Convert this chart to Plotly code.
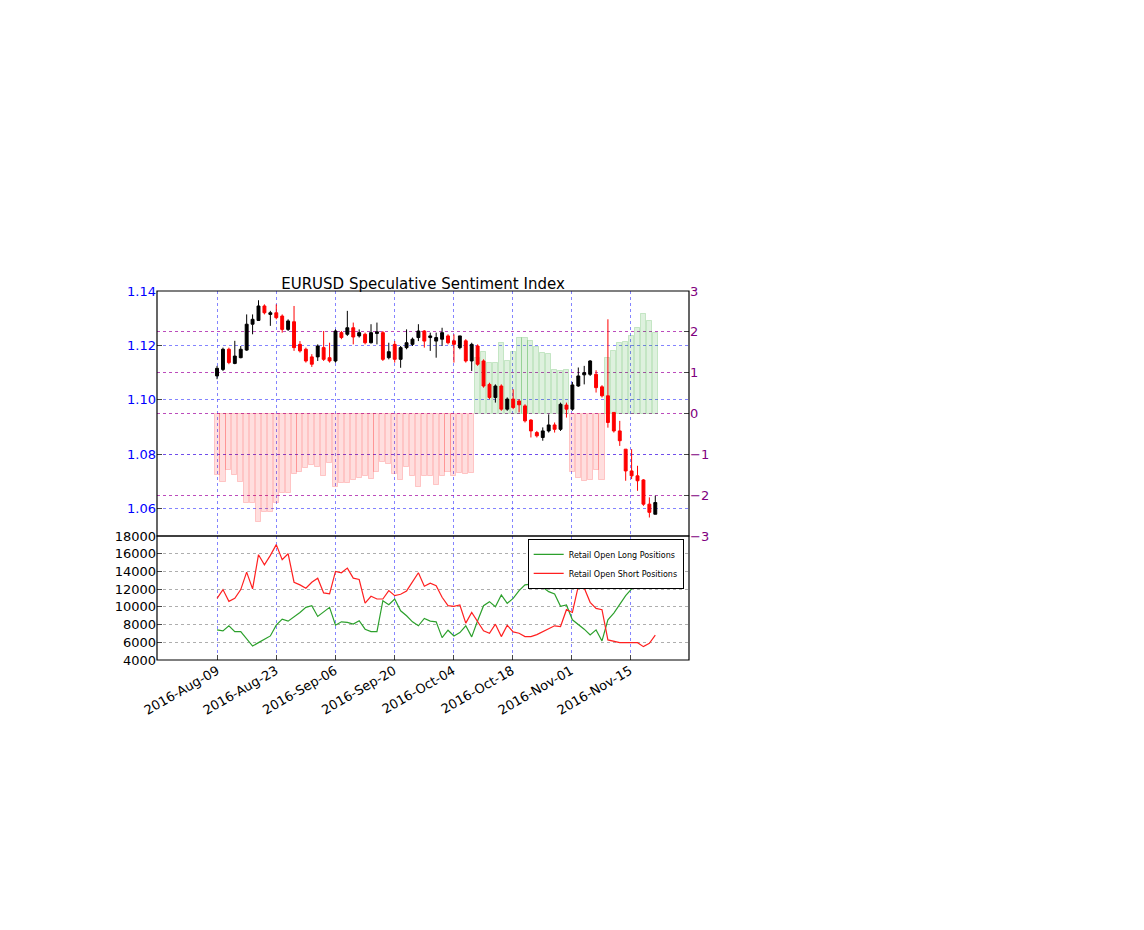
import pandas as pd
import plotly.graph_objects as go

# 75 trading sessions, drawn evenly between first and last date (as in the source chart)
dates = pd.date_range("2016-08-09", "2016-11-21", periods=75)

opens = [1.1088, 1.1112, 1.1186, 1.1134, 1.1155, 1.1183, 1.1278, 1.1292, 1.1345, 1.1314,
         1.1320, 1.1308, 1.1259, 1.1287, 1.1204, 1.1186, 1.1158, 1.1158, 1.1192, 1.1155,
         1.1143, 1.1247, 1.1241, 1.1265, 1.1235, 1.1241, 1.1210, 1.1244, 1.1247, 1.1155,
         1.1204, 1.1149, 1.1192, 1.1204, 1.1229, 1.1253, 1.1229, 1.1216, 1.1223, 1.1235,
         1.1217, 1.1192, 1.1217, 1.1143, 1.1198, 1.1143, 1.1057, 1.1009, 1.1051, 1.0966,
         1.1003, 1.0996, 1.0978, 1.0926, 1.0880, 1.0862, 1.0886, 1.0908, 1.0892, 1.0981,
         1.0966, 1.1051, 1.1092, 1.1094, 1.1094, 1.1048, 1.1015, 1.0954, 1.0886, 1.0819,
         1.0739, 1.0721, 1.0706, 1.0617, 1.0580]
highs = [1.1125, 1.1192, 1.1192, 1.1217, 1.1198, 1.1314, 1.1314, 1.1366, 1.1351, 1.1327,
         1.1351, 1.1314, 1.1296, 1.1345, 1.1216, 1.1192, 1.1168, 1.1204, 1.1253, 1.1210,
         1.1259, 1.1253, 1.1327, 1.1284, 1.1259, 1.1247, 1.1278, 1.1284, 1.1253, 1.1210,
         1.1216, 1.1198, 1.1259, 1.1229, 1.1278, 1.1256, 1.1247, 1.1247, 1.1265, 1.1241,
         1.1241, 1.1235, 1.1223, 1.1210, 1.1204, 1.1149, 1.1063, 1.1057, 1.1057, 1.1009,
         1.1039, 1.1003, 1.0984, 1.0929, 1.0886, 1.0899, 1.0947, 1.0917, 1.0990, 1.0990,
         1.1066, 1.1119, 1.1125, 1.1146, 1.1109, 1.1054, 1.1296, 1.0954, 1.0923, 1.0819,
         1.0819, 1.0758, 1.0709, 1.0642, 1.0648]
lows = [1.1076, 1.1106, 1.1131, 1.1131, 1.1153, 1.1180, 1.1241, 1.1290, 1.1314, 1.1272,
        1.1296, 1.1247, 1.1253, 1.1180, 1.1174, 1.1137, 1.1121, 1.1143, 1.1143, 1.1137,
        1.1137, 1.1223, 1.1235, 1.1204, 1.1229, 1.1204, 1.1207, 1.1204, 1.1143, 1.1149,
        1.1137, 1.1118, 1.1186, 1.1198, 1.1216, 1.1192, 1.1180, 1.1155, 1.1198, 1.1204,
        1.1137, 1.1186, 1.1137, 1.1106, 1.1125, 1.1045, 1.1003, 1.0990, 1.0960, 1.0960,
        1.0966, 1.0954, 1.0917, 1.0862, 1.0862, 1.0850, 1.0880, 1.0880, 1.0886, 1.0935,
        1.0960, 1.1048, 1.1057, 1.1088, 1.1027, 1.1009, 1.0898, 1.0880, 1.0831, 1.0703,
        1.0709, 1.0666, 1.0611, 1.0568, 1.0580]
closes = [1.1116, 1.1186, 1.1137, 1.1161, 1.1186, 1.1278, 1.1296, 1.1345, 1.1320, 1.1320,
          1.1302, 1.1259, 1.1290, 1.1192, 1.1180, 1.1143, 1.1131, 1.1198, 1.1149, 1.1143,
          1.1253, 1.1229, 1.1265, 1.1231, 1.1247, 1.1210, 1.1247, 1.1250, 1.1149, 1.1177,
          1.1149, 1.1192, 1.1210, 1.1223, 1.1253, 1.1216, 1.1235, 1.1229, 1.1247, 1.1210,
          1.1204, 1.1235, 1.1143, 1.1204, 1.1131, 1.1051, 1.1009, 1.1051, 1.0966, 1.1003,
          1.0972, 1.0982, 1.0923, 1.0886, 1.0868, 1.0886, 1.0908, 1.0892, 1.0984, 1.0966,
          1.1055, 1.1088, 1.1100, 1.1143, 1.1045, 1.1015, 1.0917, 1.0886, 1.0850, 1.0739,
          1.0721, 1.0703, 1.0617, 1.0587, 1.0623]

ssi = [-1.50, -1.67, -1.38, -1.50, -1.67, -2.20, -2.20, -2.66, -2.40, -2.40,
       -2.20, -1.95, -1.95, -1.49, -1.42, -1.34, -1.26, -1.30, -1.53, -1.22,
       -1.81, -1.71, -1.71, -1.63, -1.58, -1.54, -1.60, -1.42, -1.18, -1.24,
       -1.49, -1.63, -1.30, -1.54, -1.79, -1.54, -1.54, -1.75, -1.54, -1.42,
       -1.54, -1.46, -1.49, -1.46,
       1.36, 1.50, 1.23, 1.23, 1.72, 1.29, 1.50, 1.86, 1.86, 1.78, 1.64, 1.48, 1.45, 1.07, 1.05, 1.07,
       -1.42, -1.58, -1.65, -1.63, -1.38, -1.63,
       1.36, 1.54, 1.72, 1.76, 1.89, 2.09, 2.44, 2.27, 1.97][:75]

long_pos = [7400, 7290, 7860, 7210, 7210, 6340, 5580, 5960, 6340, 6720,
            7930, 8620, 8390, 8840, 9370, 9940, 10130, 8920, 9450, 9940,
            7930, 8310, 8240, 8050, 8430, 7480, 7210, 7210, 10700, 10240,
            10890, 9560, 8990, 8310, 7860, 8690, 8390, 8310, 6530, 7360,
            6720, 7100, 7860, 6610, 8430, 10130, 10590, 10020, 11340, 10400,
            10960, 11840, 12480, 12560, 12480, 12220, 11720, 11460, 10060, 10210,
            8540, 8050, 7480, 6830, 7400, 6150, 8540, 9300, 10320, 11270,
            12030, 12780, 13620, 13470, 13160]
short_pos = [10960, 11950, 10620, 10960, 11950, 13920, 12030, 15890, 14750, 15810,
             17030, 15320, 16000, 12780, 12480, 12100, 12780, 13240, 11570, 11460,
             14000, 13850, 14380, 13240, 13090, 10430, 11190, 10890, 10890, 11840,
             11270, 11420, 11800, 12780, 13850, 12330, 12670, 12400, 11080, 10130,
             10060, 10210, 8160, 9370, 8310, 7290, 7020, 8050, 6640, 7930,
             7170, 7020, 6640, 6640, 6870, 7170, 7480, 7860, 7780, 9680,
             9370, 12330, 12140, 10510, 9830, 9680, 6270, 6150, 5960, 5960,
             5960, 5960, 5510, 5880, 6800]

tick_dates = ["2016-08-09", "2016-08-23", "2016-09-06", "2016-09-20",
              "2016-10-04", "2016-10-18", "2016-11-01", "2016-11-15"]

bar_fill = ["rgba(0,150,0,0.13)" if v > 0 else "rgba(255,0,0,0.13)" for v in ssi]
bar_line = ["rgba(0,150,0,0.18)" if v > 0 else "rgba(255,0,0,0.18)" for v in ssi]

fig = go.Figure()
fig.add_trace(go.Bar(x=dates, y=ssi, marker=dict(color=bar_fill, line=dict(color=bar_line, width=1)),
                     width=1.2 * 86400000, yaxis="y", showlegend=False))
fig.add_trace(go.Candlestick(x=dates, open=opens, high=highs, low=lows, close=closes,
                             increasing=dict(fillcolor="black", line=dict(color="black", width=1)),
                             decreasing=dict(fillcolor="red", line=dict(color="red", width=1)),
                             whiskerwidth=0, yaxis="y2", showlegend=False))
fig.add_trace(go.Scatter(x=dates, y=long_pos, mode="lines", line=dict(color="#2ca02c", width=1.2),
                         name="Retail Open Long Positions", yaxis="y3"))
fig.add_trace(go.Scatter(x=dates, y=short_pos, mode="lines", line=dict(color="#ff2020", width=1.2),
                         name="Retail Open Short Positions", yaxis="y3"))

top_dom = [0.336, 1]
bot_dom = [0, 0.336]
fig.update_layout(
    width=1144, height=930,
    margin=dict(l=149, r=463, t=283, b=278),
    paper_bgcolor="white", plot_bgcolor="white",
    font=dict(family="DejaVu Sans", size=13, color="black"),
    title=dict(text="EURUSD Speculative Sentiment Index", x=0.5, xref="paper",
               y=1, yref="paper", yanchor="bottom", pad=dict(b=2), font=dict(size=15)),
    bargap=0,
    xaxis=dict(type="date", range=["2016-07-25 18:00", "2016-11-29"], anchor="y3",
               tickvals=tick_dates, tickformat="%Y-%b-%d", tickangle=-30,
               showgrid=True, gridcolor="rgba(80,80,255,0.7)", griddash="dot",
               ticks="inside", ticklen=5, showline=False, rangeslider=dict(visible=False)),
    yaxis=dict(domain=top_dom, range=[-3, 3], side="right", anchor="x",
               tickvals=[-3, -2, -1, 0, 1, 2, 3],
               ticktext=["\u22123", "\u22122", "\u22121", "0", "1", "2", "3"],
               tickfont=dict(color="purple"), showgrid=True, gridcolor="rgba(160,0,160,0.7)",
               griddash="dot", zeroline=False, ticks="inside", ticklen=5),
    yaxis2=dict(domain=top_dom, range=[1.05, 1.14], overlaying="y", side="left", anchor="x",
                tickvals=[1.06, 1.08, 1.10, 1.12, 1.14], tickformat=".2f",
                tickfont=dict(color="blue"), showgrid=True, gridcolor="rgba(80,80,255,0.7)",
                griddash="dot", zeroline=False, ticks="inside", ticklen=5),
    yaxis3=dict(domain=bot_dom, range=[4000, 18000], anchor="x", dtick=2000, tickformat="d",
                showgrid=True, gridcolor="rgba(120,120,120,0.6)", griddash="dot",
                zeroline=False, ticks="inside", ticklen=5),
    legend=dict(x=0.99, y=0.328, xanchor="right", yanchor="top", bgcolor="white",
                bordercolor="black", borderwidth=1, font=dict(size=8), tracegroupgap=0,
                itemwidth=30),
    shapes=[
        dict(type="rect", xref="paper", yref="paper", x0=0, x1=1, y0=top_dom[0], y1=1,
             line=dict(color="black", width=1.2)),
        dict(type="rect", xref="paper", yref="paper", x0=0, x1=1, y0=0, y1=bot_dom[1],
             line=dict(color="black", width=1.2)),
    ],
)

fig.write_html("out.html")
